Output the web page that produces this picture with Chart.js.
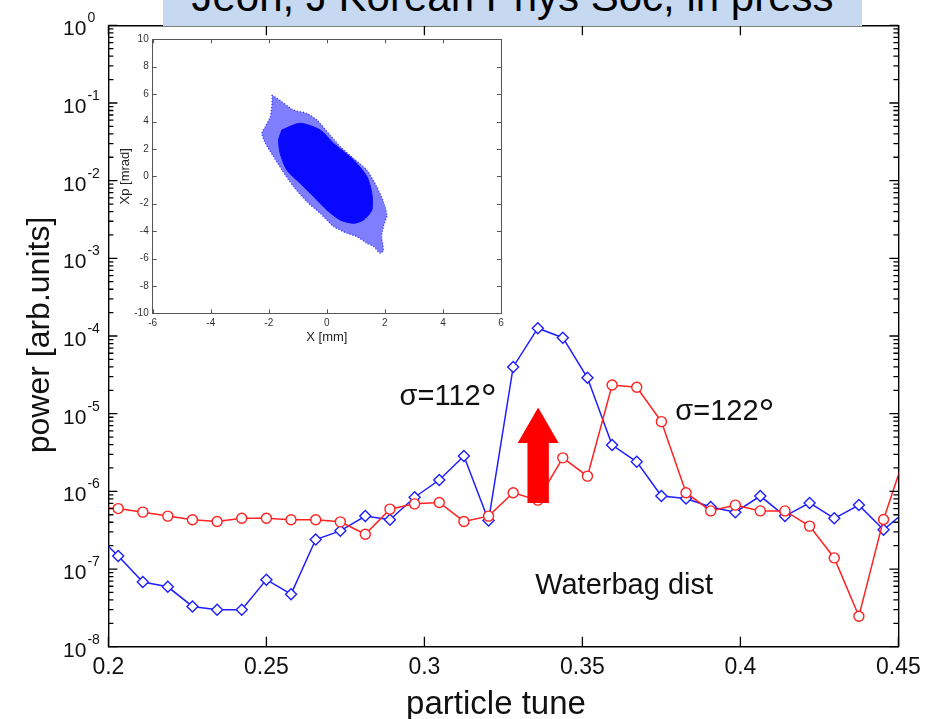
<!DOCTYPE html>
<html>
<head>
<meta charset="utf-8">
<script src="https://cdn.jsdelivr.net/npm/chart.js@4.4.1/dist/chart.umd.min.js"></script>
<style>
  html, body { margin: 0; padding: 0; background: #fff; }
  #wrap { position: relative; width: 928px; height: 719px; overflow: hidden; background: #fff; }
  #main { position: absolute; left: 0; top: 0; }
  #inset { position: absolute; left: 110px; top: 28px; }
  #banner { position: absolute; left: 163px; top: 0; width: 699px; height: 26px; background: #c6d9f1; overflow: hidden; }
  #banner span { position: absolute; left: 0; right: 0; top: -24px; text-align: center; white-space: nowrap;
                 font: 42px 'Liberation Sans', Arial, Helvetica, sans-serif; line-height: 42px; color: #000; }
</style>
</head>
<body>
<div id="wrap">
  <canvas id="main" width="928" height="719"></canvas>
  <canvas id="inset" width="410" height="325"></canvas>
  <div id="banner"><span>Jeon, J Korean Phys Soc, in press</span></div>
</div>
<script>
// ---- spectrum data: power vs particle tune ----
const tune = [0.1953, 0.2031, 0.2109, 0.2188, 0.2266, 0.2344, 0.2422, 0.2500, 0.2578, 0.2656,
              0.2734, 0.2813, 0.2891, 0.2969, 0.3047, 0.3125, 0.3203, 0.3281, 0.3359, 0.3438,
              0.3516, 0.3594, 0.3672, 0.3750, 0.3828, 0.3906, 0.3984, 0.4063, 0.4141, 0.4219,
              0.4297, 0.4375, 0.4453, 0.4531];
const sigma112 = [3.0e-7, 1.47e-7, 6.8e-8, 5.9e-8, 3.3e-8, 3.0e-8, 3.0e-8, 7.3e-8, 4.75e-8, 2.4e-7,
                  3.1e-7, 4.8e-7, 4.3e-7, 8.4e-7, 1.4e-6, 2.85e-6, 4.2e-7, 4.0e-5, 1.26e-4, 9.5e-5,
                  2.9e-5, 3.95e-6, 2.4e-6, 8.7e-7, 8.1e-7, 6.3e-7, 5.4e-7, 8.7e-7, 4.8e-7, 7.1e-7,
                  4.5e-7, 6.65e-7, 3.2e-7, 5.9e-7];
const sigma122 = [6.2e-7, 6.0e-7, 5.4e-7, 4.8e-7, 4.3e-7, 4.1e-7, 4.5e-7, 4.5e-7, 4.3e-7, 4.3e-7,
                  4.05e-7, 2.8e-7, 5.9e-7, 6.9e-7, 7.2e-7, 4.1e-7, 4.8e-7, 9.6e-7, 7.7e-7, 2.7e-6,
                  1.57e-6, 2.34e-5, 2.19e-5, 7.9e-6, 9.6e-7, 5.6e-7, 6.65e-7, 5.6e-7, 5.6e-7, 3.57e-7,
                  1.39e-7, 2.47e-8, 4.35e-7, 3.9e-6];

const xTicks = [0.2, 0.25, 0.3, 0.35, 0.4, 0.45];
const xTickLabels = ['0.2', '0.25', '0.3', '0.35', '0.4', '0.45'];
const yDecades = [-8, -7, -6, -5, -4, -3, -2, -1, 0];
const yExponentLabels = ['-8', '-7', '-6', '-5', '-4', '-3', '-2', '-1', '0'];

// ---- phase-space inset: outline of the particle cloud (X [mm], Xp [mrad]) ----
const haloX = [-1.89, -1.55, -1.15, -0.69, -0.34, 0.11, 0.46, 0.92, 1.38, 1.72, 1.95, 2.07, 1.95, 1.89, 1.95, 1.84,
               1.61, 1.38, 1.03, 0.69, 0.23, -0.23, -0.69, -1.15, -1.55, -1.84, -2.12, -2.24, -2.12, -1.95, -1.89, -1.89];
const haloY = [5.94, 5.45, 4.84, 4.60, 4.11, 3.02, 2.17, 1.31, 0.46, -0.75, -1.85, -2.82, -3.67, -4.40, -5.38, -5.62,
               -5.13, -4.89, -4.40, -4.16, -3.67, -2.70, -1.85, -0.75, 0.46, 1.44, 2.41, 3.14, 3.63, 4.36, 5.33, 5.94];
const coreX = [-1.55, -0.92, -0.23, 0.23, 0.92, 1.38, 1.55, 1.55, 1.26, 0.92, 0.46, 0.00, -0.46, -0.92, -1.38, -1.61, -1.66, -1.55];
const coreY = [3.38, 3.87, 3.38, 2.41, 1.19, -0.02, -1.24, -2.46, -3.19, -3.43, -3.19, -2.46, -1.48, -0.51, 0.46, 1.68, 2.65, 3.38];
const insetXTicks = [-6, -4, -2, 0, 2, 4, 6];
const insetXLabels = ['-6', '-4', '-2', '0', '2', '4', '6'];
const insetYTicks = [-10, -8, -6, -4, -2, 0, 2, 4, 6, 8, 10];
const insetYLabels = ['-10', '-8', '-6', '-4', '-2', '0', '2', '4', '6', '8', '10'];

// ---- text placed inside the plot, in data coordinates ----
const curveNotes = [
  { text: 'σ=112', degree: true, x: 0.3075, y: 1.75e-5 },
  { text: 'σ=122', degree: true, x: 0.3951, y: 1.12e-5 },
  { text: 'Waterbag dist', degree: false, x: 0.3632, y: 6.4e-8 }
];
const growthArrow = { x: 0.336, tip: 1.2e-5, neck: 4.2e-6, tail: 7.1e-7, headHalf: 20.5, shaftHalf: 10.7 };

const FONT = "'Liberation Sans', Arial, Helvetica, sans-serif";
const BLUE = 'rgb(30,30,255)';
const RED = 'rgb(255,32,32)';
const toXY = (xs, ys) => xs.map((x, i) => ({ x: x, y: ys[i] }));

function frameAxis(pos, type, min, max, color, width) {
  return {
    type: type, position: pos, min: min, max: max,
    grid: { display: false, drawTicks: false },
    ticks: { display: false },
    border: { display: true, color: color, width: width }
  };
}

// inward tick marks, tick labels, axis titles and notes of the main plot
const mainDecor = {
  id: 'mainDecor',
  afterDraw(chart) {
    const { ctx, chartArea: a, scales } = chart;
    const x = scales.x, y = scales.y;
    ctx.save();
    ctx.strokeStyle = '#000';
    ctx.lineWidth = 1.3;
    ctx.beginPath();
    xTicks.forEach(v => {
      const px = x.getPixelForValue(v);
      ctx.moveTo(px, a.bottom); ctx.lineTo(px, a.bottom - 10);
      ctx.moveTo(px, a.top); ctx.lineTo(px, a.top + 10);
    });
    yDecades.forEach(d => {
      const py = y.getPixelForValue(Math.pow(10, d));
      ctx.moveTo(a.left, py); ctx.lineTo(a.left + 9, py);
      ctx.moveTo(a.right, py); ctx.lineTo(a.right - 9, py);
      if (d < 0) {
        for (let m = 2; m <= 9; m++) {
          const pm = y.getPixelForValue(m * Math.pow(10, d));
          ctx.moveTo(a.left, pm); ctx.lineTo(a.left + 5, pm);
          ctx.moveTo(a.right, pm); ctx.lineTo(a.right - 5, pm);
        }
      }
    });
    ctx.stroke();

    // red arrow
    const ax = x.getPixelForValue(growthArrow.x);
    const yTip = y.getPixelForValue(growthArrow.tip);
    const yNeck = y.getPixelForValue(growthArrow.neck);
    const yTail = y.getPixelForValue(growthArrow.tail);
    ctx.fillStyle = '#ff0000';
    ctx.beginPath();
    ctx.moveTo(ax, yTip);
    ctx.lineTo(ax + growthArrow.headHalf, yNeck);
    ctx.lineTo(ax + growthArrow.shaftHalf, yNeck);
    ctx.lineTo(ax + growthArrow.shaftHalf, yTail);
    ctx.lineTo(ax - growthArrow.shaftHalf, yTail);
    ctx.lineTo(ax - growthArrow.shaftHalf, yNeck);
    ctx.lineTo(ax - growthArrow.headHalf, yNeck);
    ctx.closePath();
    ctx.fill();

    ctx.fillStyle = '#111';
    // x tick labels
    ctx.font = '23px ' + FONT;
    ctx.textAlign = 'center';
    ctx.textBaseline = 'top';
    xTicks.forEach((v, i) => ctx.fillText(xTickLabels[i], x.getPixelForValue(v), a.bottom + 9));
    // y tick labels: 10 with exponent
    yDecades.forEach((d, i) => {
      const py = y.getPixelForValue(Math.pow(10, d));
      ctx.font = '21px ' + FONT;
      ctx.textAlign = 'right';
      ctx.textBaseline = 'alphabetic';
      ctx.fillText('10', a.left - 22, py + 10);
      ctx.font = '14px ' + FONT;
      ctx.textAlign = 'left';
      ctx.fillText(yExponentLabels[i], a.left - 21, py - 3);
    });
    // axis titles
    ctx.font = '33px ' + FONT;
    ctx.textAlign = 'center';
    ctx.textBaseline = 'middle';
    ctx.fillText('particle tune', 496, a.bottom + 58);
    ctx.font = '32px ' + FONT;
    ctx.save();
    ctx.translate(40, 335);
    ctx.rotate(-Math.PI / 2);
    ctx.fillText('power [arb.units]', 0, 0);
    ctx.restore();

    // curve notes
    curveNotes.forEach(n => {
      const px = x.getPixelForValue(n.x);
      const py = y.getPixelForValue(n.y);
      ctx.font = '29px ' + FONT;
      const w1 = ctx.measureText(n.text).width;
      let w2 = 0;
      if (n.degree) { ctx.font = '40px ' + FONT; w2 = ctx.measureText('°').width; }
      const left = px - (w1 + w2) / 2;
      ctx.textAlign = 'left';
      ctx.textBaseline = 'alphabetic';
      ctx.font = '29px ' + FONT;
      ctx.fillText(n.text, left, py + 10);
      if (n.degree) {
        ctx.font = '40px ' + FONT;
        ctx.fillText('°', left + w1, py + 17);
      }
    });
    ctx.restore();
  }
};

new Chart(document.getElementById('main'), {
  type: 'line',
  data: {
    datasets: [
      { label: 'σ=122°', data: toXY(tune, sigma122), borderColor: RED, borderWidth: 1.5,
        pointStyle: 'circle', pointRadius: 5, pointBorderWidth: 1.4,
        pointBorderColor: RED, pointBackgroundColor: '#fff', tension: 0, xAxisID: 'x', yAxisID: 'y' },
      { label: 'σ=112°', data: toXY(tune, sigma112), borderColor: BLUE, borderWidth: 1.5,
        pointStyle: 'rectRot', pointRadius: 5.5, pointBorderWidth: 1.4,
        pointBorderColor: BLUE, pointBackgroundColor: '#fff', tension: 0, xAxisID: 'x', yAxisID: 'y' }
    ]
  },
  options: {
    responsive: false, devicePixelRatio: 1, animation: false, events: [],
    layout: { padding: { left: 108.4, right: 29.6, top: 25.3, bottom: 72.3 } },
    plugins: { legend: { display: false }, tooltip: { enabled: false } },
    scales: {
      x: frameAxis('bottom', 'linear', 0.2, 0.45, '#000', 1.4),
      x2: frameAxis('top', 'linear', 0.2, 0.45, '#000', 1.4),
      y: frameAxis('left', 'logarithmic', 1e-8, 1, '#000', 1.4),
      y2: frameAxis('right', 'logarithmic', 1e-8, 1, '#000', 1.4)
    }
  },
  plugins: [mainDecor]
});

// inset: ticks, labels and titles
const insetDecor = {
  id: 'insetDecor',
  afterDraw(chart) {
    const { ctx, chartArea: a, scales } = chart;
    const x = scales.x, y = scales.y;
    ctx.save();
    ctx.strokeStyle = '#555';
    ctx.lineWidth = 1;
    ctx.beginPath();
    insetXTicks.forEach(v => {
      const px = Math.round(x.getPixelForValue(v)) + 0.5;
      ctx.moveTo(px, a.bottom); ctx.lineTo(px, a.bottom - 4);
      ctx.moveTo(px, a.top); ctx.lineTo(px, a.top + 4);
    });
    insetYTicks.forEach(v => {
      const py = Math.round(y.getPixelForValue(v)) + 0.5;
      ctx.moveTo(a.left, py); ctx.lineTo(a.left + 4, py);
      ctx.moveTo(a.right, py); ctx.lineTo(a.right - 4, py);
    });
    ctx.stroke();
    ctx.fillStyle = '#333';
    ctx.font = '10px ' + FONT;
    ctx.textAlign = 'center';
    ctx.textBaseline = 'top';
    insetXTicks.forEach((v, i) => ctx.fillText(insetXLabels[i], x.getPixelForValue(v), a.bottom + 5));
    ctx.textAlign = 'right';
    ctx.textBaseline = 'middle';
    insetYTicks.forEach((v, i) => ctx.fillText(insetYLabels[i], a.left - 4, y.getPixelForValue(v)));
    ctx.fillStyle = '#222';
    ctx.font = '13px ' + FONT;
    ctx.textAlign = 'center';
    ctx.fillText('X [mm]', (a.left + a.right) / 2, a.bottom + 24);
    ctx.save();
    ctx.translate(a.left - 27, (a.top + a.bottom) / 2);
    ctx.rotate(-Math.PI / 2);
    ctx.fillText('Xp [mrad]', 0, 0);
    ctx.restore();
    ctx.restore();
  }
};

new Chart(document.getElementById('inset'), {
  type: 'line',
  data: {
    datasets: [
      { label: 'core', data: toXY(coreX, coreY), fill: 'shape', backgroundColor: 'rgb(8,8,255)',
        borderColor: 'rgb(8,8,255)', borderWidth: 1, pointRadius: 0, tension: 0.25 },
      { label: 'halo', data: toXY(haloX, haloY), fill: 'shape', backgroundColor: 'rgba(20,20,255,0.55)',
        borderColor: 'rgba(20,20,255,0.8)', borderWidth: 1.3, borderDash: [1, 2], pointRadius: 0, tension: 0.2 }
    ]
  },
  options: {
    responsive: false, devicePixelRatio: 1, animation: false, events: [],
    layout: { padding: { left: 42.7, right: 19, top: 11.3, bottom: 39.7 } },
    plugins: { legend: { display: false }, tooltip: { enabled: false } },
    scales: {
      x: frameAxis('bottom', 'linear', -6, 6, '#555', 1),
      x2: frameAxis('top', 'linear', -6, 6, '#555', 1),
      y: frameAxis('left', 'linear', -10, 10, '#555', 1),
      y2: frameAxis('right', 'linear', -10, 10, '#555', 1)
    }
  },
  plugins: [insetDecor]
});
</script>
</body>
</html>
